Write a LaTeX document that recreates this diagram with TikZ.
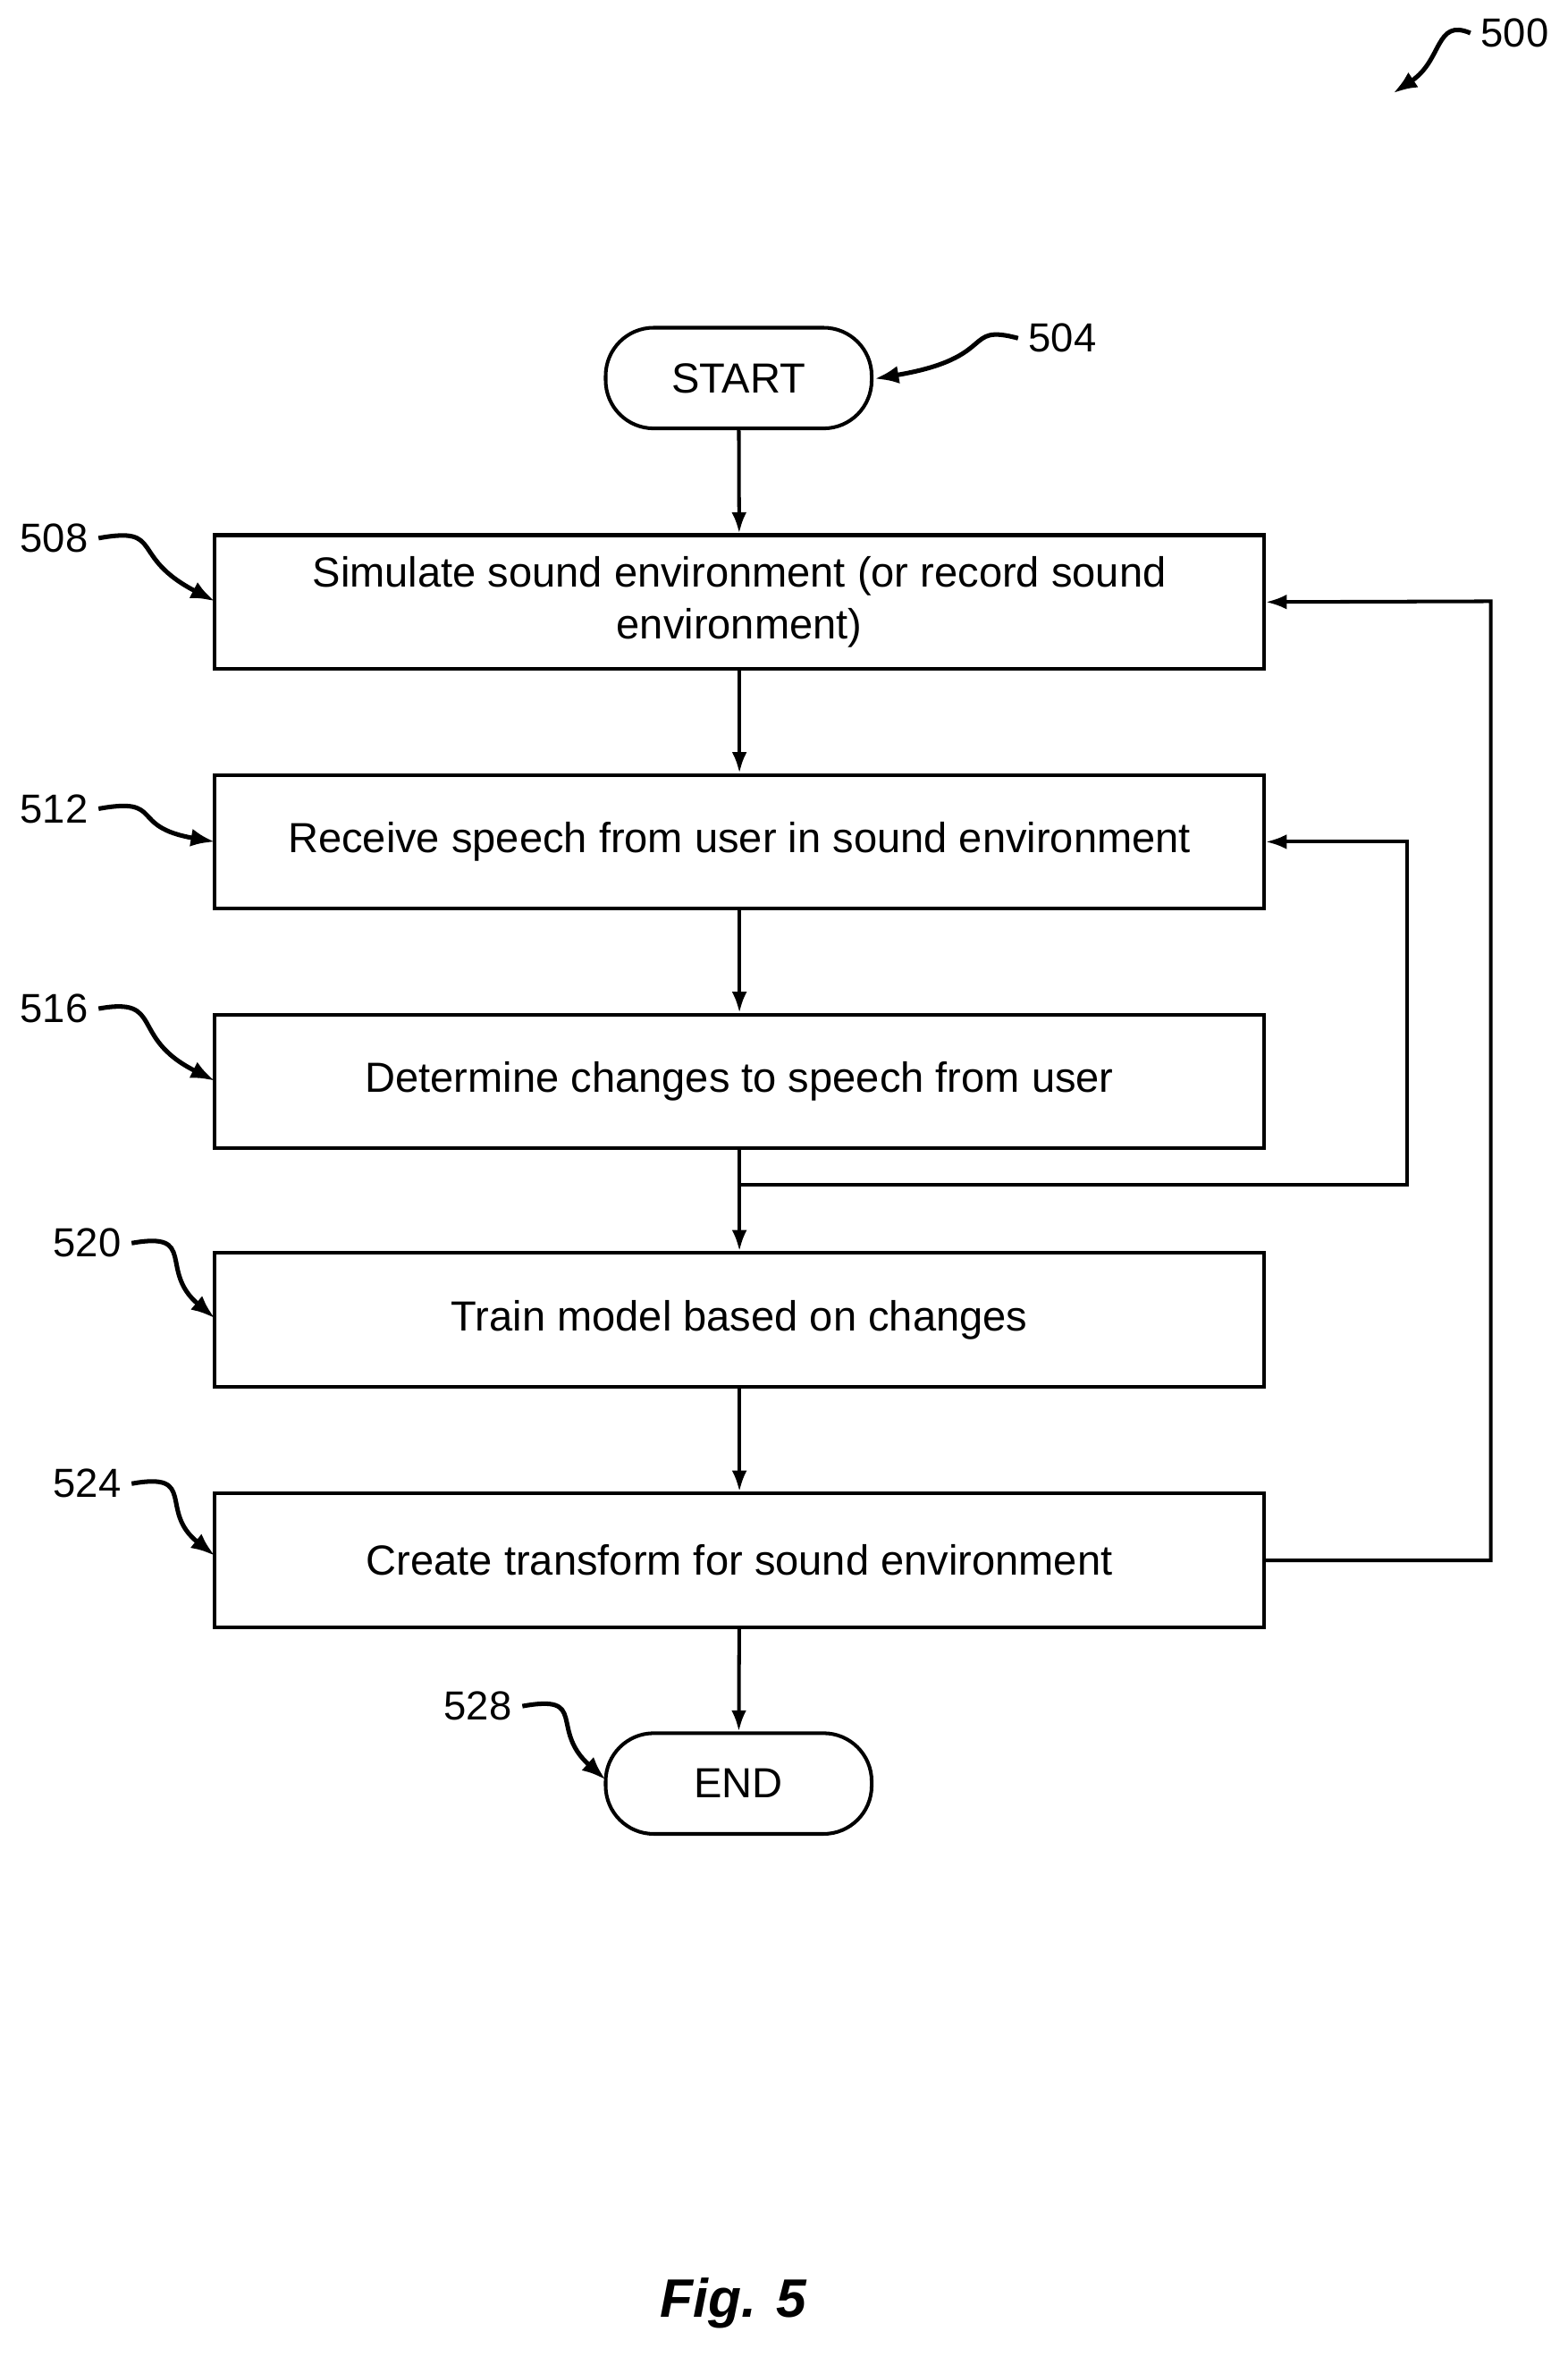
\documentclass[tikz,border=0pt]{standalone}
\usepackage{fontspec}
\setmainfont{Liberation Sans}
\usetikzlibrary{arrows.meta}
\begin{document}
\begin{tikzpicture}[x=0.5pt,y=-0.5pt,
  box/.style={draw,line width=1.2pt,minimum width=349pt,minimum height=44.5pt,inner sep=0pt,align=center,font=\fontsize{14}{17.5}\selectfont},
  term/.style={draw,line width=1.2pt,rounded corners=16pt,minimum width=88.5pt,minimum height=33.5pt,inner sep=0pt,font=\fontsize{14}{17}\selectfont},
  lab/.style={font=\fontsize{13.5}{16}\selectfont},
  ar/.style={line width=1.2pt,-{Latex[length=7pt,width=5pt]}},
  sq/.style={line width=1.5pt,-{Latex[length=8pt,width=6pt]}}]
\useasboundingbox (0,0) rectangle (1043,1568);
\node[term] (s) at (491.5,251.5) {START};
\node[box] (b508) at (492,400.5) {Simulate sound environment (or record sound\\environment)};
\node[box] (b512) at (492,560) {Receive speech from user in sound environment};
\node[box] (b516) at (492,719.5) {Determine changes to speech from user};
\node[box] (b520) at (492,878) {Train model based on changes};
\node[box] (b524) at (492,1038) {Create transform for sound environment};
\node[term] (e) at (491.5,1186.5) {END};
\coordinate (j) at (492,788);
\draw[ar] (s) -- (b508);
\draw[ar] (b508) -- (b512);
\draw[ar] (b512) -- (b516);
\draw[line width=1.2pt] (b516) -- (j);
\draw[ar] (j) -- (b520);
\draw[ar] (b520) -- (b524);
\draw[ar] (b524) -- (e);
\draw[ar] (j) -- (936,788) -- (936,560) -- (b512.east);
\draw[ar] (b524.east) -- (992,1038) -- (992,400) -- (b508.east);
% labels
\node[lab] (l500) at (1008,22) {500};
\node[lab] (l504) at (707,225) {504};
\node[lab] (l508) at (36,358) {508};
\node[lab] (l512) at (36,538) {512};
\node[lab] (l516) at (36,671) {516};
\node[lab] (l520) at (58,827) {520};
\node[lab] (l524) at (58,987) {524};
\node[lab] (l528) at (318,1135) {528};
\draw[sq] (l500.west) .. controls (955,12) and (960,40) .. (927,62);
\draw[sq] (l504.west) .. controls (640,215) and (665,238) .. (582,252);
\draw[sq] (l508.east) .. controls (110,350) and (85,370) .. (143,400);
\draw[sq] (l512.east) .. controls (110,530) and (85,550) .. (143,560);
\draw[sq] (l516.east) .. controls (110,663) and (85,690) .. (143,719);
\draw[sq] (l520.east) .. controls (132,819) and (105,845) .. (143,877);
\draw[sq] (l524.east) .. controls (132,979) and (105,1005) .. (143,1035);
\draw[sq] (l528.east) .. controls (392,1127) and (365,1150) .. (403,1184);
\node[font=\fontsize{18}{22}\selectfont\bfseries\itshape] (fig) at (488,1532) {Fig. 5};
\end{tikzpicture}
\end{document}
